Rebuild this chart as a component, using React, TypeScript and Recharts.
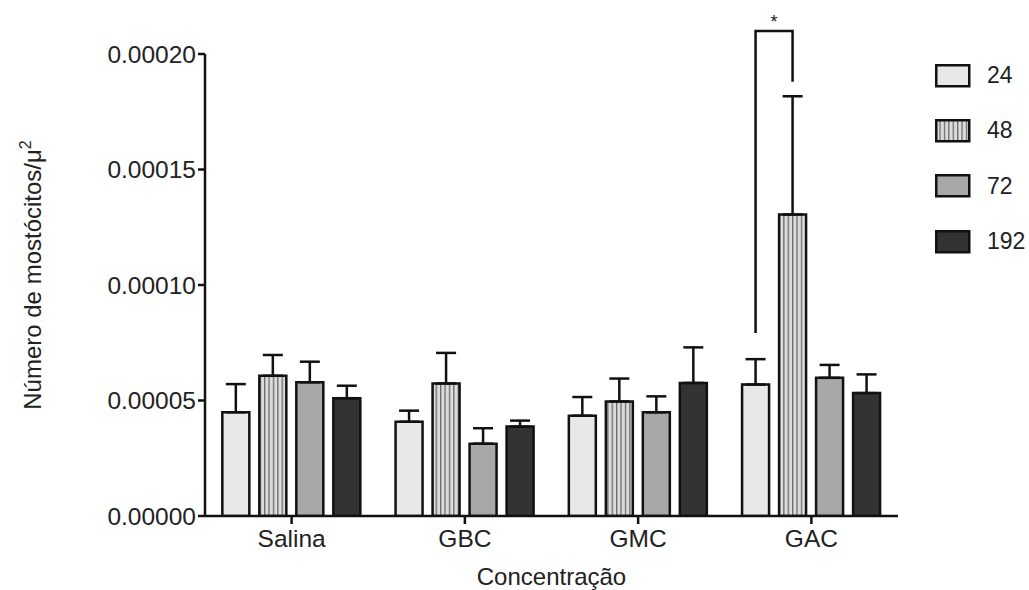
import React from 'react';
import { BarChart, Bar, XAxis, YAxis, ErrorBar, Legend, LabelList } from 'recharts';

const categories = ['Salina', 'GBC', 'GMC', 'GAC'];
const seriesNames = ['24', '48', '72', '192'];
const values24 = [4.49e-5, 4.08e-5, 4.34e-5, 5.69e-5];
const values48 = [6.07e-5, 5.74e-5, 4.96e-5, 1.305e-4];
const values72 = [5.79e-5, 3.13e-5, 4.49e-5, 5.98e-5];
const values192 = [5.1e-5, 3.87e-5, 5.76e-5, 5.32e-5];
const err24 = [1.22e-5, 0.48e-5, 0.81e-5, 1.1e-5];
const err48 = [0.9e-5, 1.32e-5, 0.99e-5, 5.12e-5];
const err72 = [0.89e-5, 0.67e-5, 0.69e-5, 0.56e-5];
const err192 = [0.54e-5, 0.26e-5, 1.54e-5, 0.81e-5];
const yTicks = [0, 0.00005, 0.0001, 0.00015, 0.0002];
const bracket = { category: 'GAC', top: 2.1e-4, leftEnd: 7.92e-5, rightEnd: 1.88e-4, mark: '*' };

const fills = ['#e8e8e8', 'url(#stripes48)', '#a8a8a8', '#333333'];
const fontFamily = '"Liberation Sans", Arial, Helvetica, sans-serif';
const BAR_GAP = 10;
const INK = '#111';

const data = categories.map((category, i) => ({
  category,
  v24: values24[i],
  v48: values48[i],
  v72: values72[i],
  v192: values192[i],
  e24: [0, err24[i]],
  e48: [0, err48[i]],
  e72: [0, err72[i]],
  e192: [0, err192[i]],
}));

const renderBracket = (props: any) => {
  const { index } = props;
  if (categories[index] !== bracket.category) return null;
  const vb = props.viewBox && props.viewBox.width != null ? props.viewBox : props;
  const x = Number(vb.x);
  const y = Number(vb.y);
  const w = Number(vb.width);
  const h = Number(vb.height);
  const v = values48[index];
  const base = y + h;
  const pxPerUnit = h / v;
  const toY = (val: number) => base - val * pxPerUnit;
  const rightX = x + w / 2;
  const leftX = rightX - (w + BAR_GAP);
  const topY = toY(bracket.top);
  return (
    <g>
      <path
        d={`M${leftX},${toY(bracket.leftEnd)} V${topY} H${rightX} V${toY(bracket.rightEnd)}`}
        fill="none"
        stroke={INK}
        strokeWidth={2.5}
      />
      <text x={(leftX + rightX) / 2} y={topY - 3} textAnchor="middle" fontSize={18} fill="#222" fontFamily={fontFamily}>
        {bracket.mark}
      </text>
    </g>
  );
};

const renderYLabel = (props: any) => {
  const vb = props.viewBox || { y: 54, height: 462 };
  const cy = vb.y + vb.height / 2 - 10;
  const cx = 41;
  return (
    <text
      x={0}
      y={0}
      transform={`translate(${cx}, ${cy}) rotate(-90)`}
      textAnchor="middle"
      fontSize={24}
      fill="#222"
      fontFamily={fontFamily}
    >
      Número de mostócitos/μ<tspan dy={-10} fontSize={16}>2</tspan>
    </text>
  );
};

const renderLegend = () => (
  <div style={{ fontFamily, fontSize: 23, color: '#222' }}>
    {seriesNames.map((name, i) => (
      <div key={name} style={{ display: 'flex', alignItems: 'center', height: 55.3 }}>
        <svg width={36} height={24} style={{ display: 'block' }}>
          <defs>
            <pattern id={`legstripes${i}`} width={4.4} height={10} patternUnits="userSpaceOnUse">
              <rect width={4.4} height={10} fill="#dcdcdc" />
              <rect x={0} width={1.3} height={10} fill="#6a6a6a" />
            </pattern>
          </defs>
          <rect
            x={1.25}
            y={1.25}
            width={33}
            height={21}
            fill={i === 1 ? `url(#legstripes${i})` : fills[i]}
            stroke={INK}
            strokeWidth={2.5}
          />
        </svg>
        <span style={{ marginLeft: 16 }}>{name}</span>
      </div>
    ))}
  </div>
);

export default function App() {
  const tickStyle = { fill: '#222', fontSize: 24.5, fontFamily };
  return (
    <div style={{ position: 'absolute', left: 0, top: 0, width: 1029, height: 590, background: '#fff' }}>
      <BarChart
        width={1029}
        height={590}
        data={data}
        margin={{ top: 54, right: 131, bottom: 0, left: 0 }}
        barCategoryGap="10%"
        barGap={BAR_GAP}
      >
        <defs>
          <pattern id="stripes48" width={4.4} height={10} patternUnits="userSpaceOnUse">
            <rect width={4.4} height={10} fill="#dcdcdc" />
            <rect x={0} width={1.3} height={10} fill="#6a6a6a" />
          </pattern>
        </defs>
        <XAxis
          dataKey="category"
          height={74}
          tickSize={8}
          tickMargin={6}
          tick={tickStyle}
          axisLine={{ stroke: INK, strokeWidth: 2.5 }}
          tickLine={{ stroke: INK, strokeWidth: 2.5 }}
          interval={0}
          label={{ value: 'Concentração', position: 'insideBottom', offset: 5, fontSize: 24, fill: '#222', fontFamily }}
        />
        <YAxis
          type="number"
          domain={[0, 0.0002]}
          ticks={yTicks}
          interval={0}
          allowDataOverflow
          width={205}
          tickSize={7}
          tickMargin={2}
          tick={tickStyle}
          tickFormatter={(v: number) => v.toFixed(5)}
          axisLine={{ stroke: INK, strokeWidth: 2.5 }}
          tickLine={{ stroke: INK, strokeWidth: 2.5 }}
          label={renderYLabel}
        />
        <Legend
          layout="vertical"
          align="center"
          verticalAlign="middle"
          content={renderLegend}
          wrapperStyle={{ left: 935, top: 48, width: 94 }}
        />
        <Bar dataKey="v24" name={seriesNames[0]} fill={fills[0]} stroke={INK} strokeWidth={2.5} isAnimationActive={false}>
          <ErrorBar dataKey="e24" width={10} stroke={INK} strokeWidth={2.5} />
        </Bar>
        <Bar dataKey="v48" name={seriesNames[1]} fill={fills[1]} stroke={INK} strokeWidth={2.5} isAnimationActive={false}>
          <ErrorBar dataKey="e48" width={10} stroke={INK} strokeWidth={2.5} />
          <LabelList dataKey="v48" content={renderBracket} />
        </Bar>
        <Bar dataKey="v72" name={seriesNames[2]} fill={fills[2]} stroke={INK} strokeWidth={2.5} isAnimationActive={false}>
          <ErrorBar dataKey="e72" width={10} stroke={INK} strokeWidth={2.5} />
        </Bar>
        <Bar dataKey="v192" name={seriesNames[3]} fill={fills[3]} stroke={INK} strokeWidth={2.5} isAnimationActive={false}>
          <ErrorBar dataKey="e192" width={10} stroke={INK} strokeWidth={2.5} />
        </Bar>
      </BarChart>
    </div>
  );
}
